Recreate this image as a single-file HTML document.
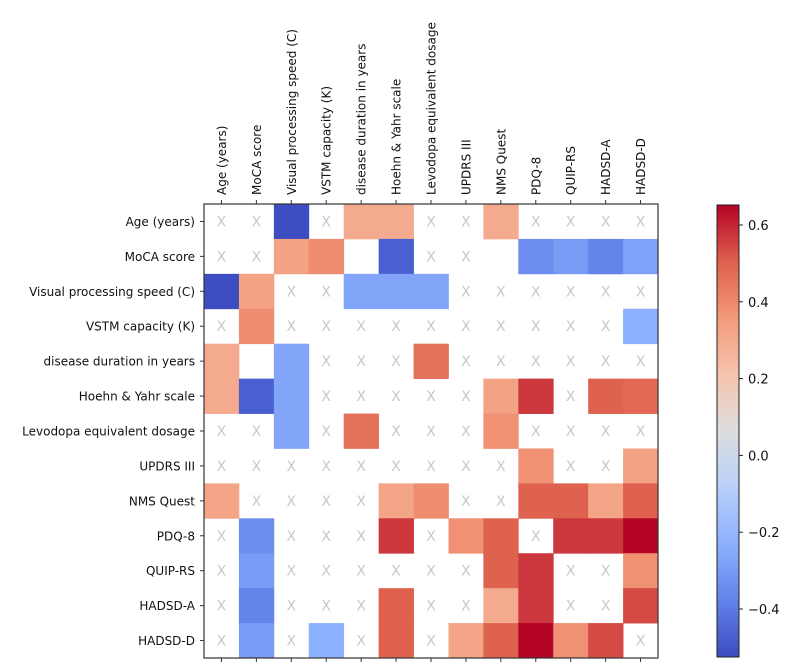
<!DOCTYPE html>
<html><head><meta charset="utf-8"><style>
html,body{margin:0;padding:0;background:#fff;}
svg{display:block;font-family:"DejaVu Sans","Liberation Sans",sans-serif;}
</style></head><body>
<svg id="chart" width="791" height="665" viewBox="0 0 791 665">
<defs><linearGradient id="cw" x1="0" y1="1" x2="0" y2="0">
<stop offset="0" stop-color="rgb(59,76,192)"/><stop offset="0.125" stop-color="rgb(98,130,234)"/>
<stop offset="0.25" stop-color="rgb(141,176,254)"/><stop offset="0.375" stop-color="rgb(184,208,249)"/>
<stop offset="0.5" stop-color="rgb(221,221,221)"/><stop offset="0.625" stop-color="rgb(245,196,173)"/>
<stop offset="0.75" stop-color="rgb(244,154,123)"/><stop offset="0.875" stop-color="rgb(222,96,77)"/>
<stop offset="1" stop-color="rgb(180,4,38)"/></linearGradient></defs>
<g id="cells"></g><g id="axes"></g><g id="cbar"></g>
</svg>
<script>
const labels = ["Age (years)","MoCA score","Visual processing speed (C)","VSTM capacity (K)","disease duration in years","Hoehn & Yahr scale","Levodopa equivalent dosage","UPDRS III","NMS Quest","PDQ-8","QUIP-RS","HADSD-A","HADSD-D"];
// null = not significant (X), "" = blank
const row0 = [null,null,-0.52,null,0.30,0.30,null,null,0.30,null,null,null,null];
const row1 = [null,null,0.33,0.39,"",-0.47,null,null,"",-0.34,-0.30,-0.37,-0.28];
const row2 = [-0.52,0.33,null,null,-0.27,-0.27,-0.27,null,null,null,null,null,null];
const row3 = [null,0.39,null,null,null,null,null,null,null,null,null,null,-0.23];
const row4 = [0.30,"",-0.27,null,null,null,0.46,null,null,null,null,null,null];
const row5 = [0.30,-0.47,-0.27,null,null,null,null,null,0.33,0.57,null,0.50,0.48];
const row6 = [null,null,-0.27,null,0.46,null,null,null,0.38,null,null,null,null];
const row7 = [null,null,null,null,null,null,null,null,null,0.38,null,null,0.33];
const row8 = [0.32,null,null,null,null,0.32,0.39,null,null,0.50,0.50,0.32,0.50];
const row9 = [null,-0.34,null,null,null,0.57,null,0.38,0.50,null,0.57,0.57,0.65];
const row10 = [null,-0.30,null,null,null,null,null,null,0.50,0.57,null,null,0.38];
const row11 = [null,-0.37,null,null,null,0.50,null,null,0.30,0.57,null,null,0.54];
const row12 = [null,-0.30,null,-0.23,null,0.50,null,0.32,0.50,0.65,0.38,0.54,null];
const values = [row0,row1,row2,row3,row4,row5,row6,row7,row8,row9,row10,row11,row12];
const cbTicks = [-0.4,-0.2,0.0,0.2,0.4,0.6];
const vmin = -0.525, vmax = 0.652;

const NS="http://www.w3.org/2000/svg";
const X0=204, Y0=204, W=454, H=454, n=labels.length, cw=W/n, ch=H/n;
const CBX=717, CBY=205, CBW=22, CBH=452;
const stops=[[59,76,192],[98,130,234],[141,176,254],[184,208,249],[221,221,221],[245,196,173],[244,154,123],[222,96,77],[180,4,38]];
function cmap(v){let t=(v-vmin)/(vmax-vmin);t=Math.max(0,Math.min(1,t));const p=t*8,i=Math.min(7,Math.floor(p)),f=p-i;
const c=stops[i].map((a,k)=>Math.round(a+(stops[i+1][k]-a)*f));return `rgb(${c})`;}
function xs(i){return X0+i*cw;} function ys(j){return Y0+j*ch;}
function cbY(v){return CBY+CBH-(v-vmin)/(vmax-vmin)*CBH;}
function mk(tag,attrs,parent){const e=document.createElementNS(NS,tag);for(const k in attrs)e.setAttribute(k,attrs[k]);parent.appendChild(e);return e;}
const cells=document.getElementById('cells'),axes=document.getElementById('axes'),cb=document.getElementById('cbar');
values.forEach((row,j)=>row.forEach((v,i)=>{
  if(typeof v==='number'){const r=mk('rect',{x:xs(i),y:ys(j),width:cw+0.4,height:ch+0.4,fill:cmap(v)},cells);
    
    }
  else if(v===null){const t=mk('text',{x:xs(i)+cw/2,y:ys(j)+ch/2+5,'text-anchor':'middle','font-size':14,fill:'#c8c8c8'},cells);t.textContent='X';
    
    }
}));
const fr=mk('rect',{x:X0,y:Y0,width:W,height:H,fill:'none',stroke:'#333','stroke-width':1.2},axes);


labels.forEach((lab,k)=>{
  const cx=xs(k)+cw/2, cy=ys(k)+ch/2;
  mk('line',{x1:cx,y1:Y0,x2:cx,y2:Y0-4,stroke:'#333'},axes);
  mk('line',{x1:cx,y1:Y0+H,x2:cx,y2:Y0+H+4,stroke:'#333'},axes);
  mk('line',{x1:X0,y1:cy,x2:X0-4,y2:cy,stroke:'#333'},axes);
  const yl=mk('text',{x:X0-9,y:cy+4.5,'text-anchor':'end','font-size':12,fill:'#111'},axes);yl.textContent=lab;
  
  
  const xl=mk('text',{x:0,y:0,'text-anchor':'start','font-size':12,fill:'#111',transform:`translate(${cx+4.5},${Y0-9}) rotate(-90)`},axes);xl.textContent=lab;
  
  
});
const bar=mk('rect',{x:CBX,y:CBY,width:CBW,height:CBH,fill:'url(#cw)',stroke:'#222','stroke-width':1},cb);


cbTicks.forEach(v=>{const y=cbY(v);
  mk('line',{x1:CBX+CBW,y1:y,x2:CBX+CBW+4,y2:y,stroke:'#222'},cb);
  const t=mk('text',{x:CBX+CBW+9,y:y+5,'font-size':13,fill:'#111'},cb);t.textContent=(v<0?'\u2212':'')+Math.abs(v).toFixed(1);
  
  
});
</script>
</body></html>
